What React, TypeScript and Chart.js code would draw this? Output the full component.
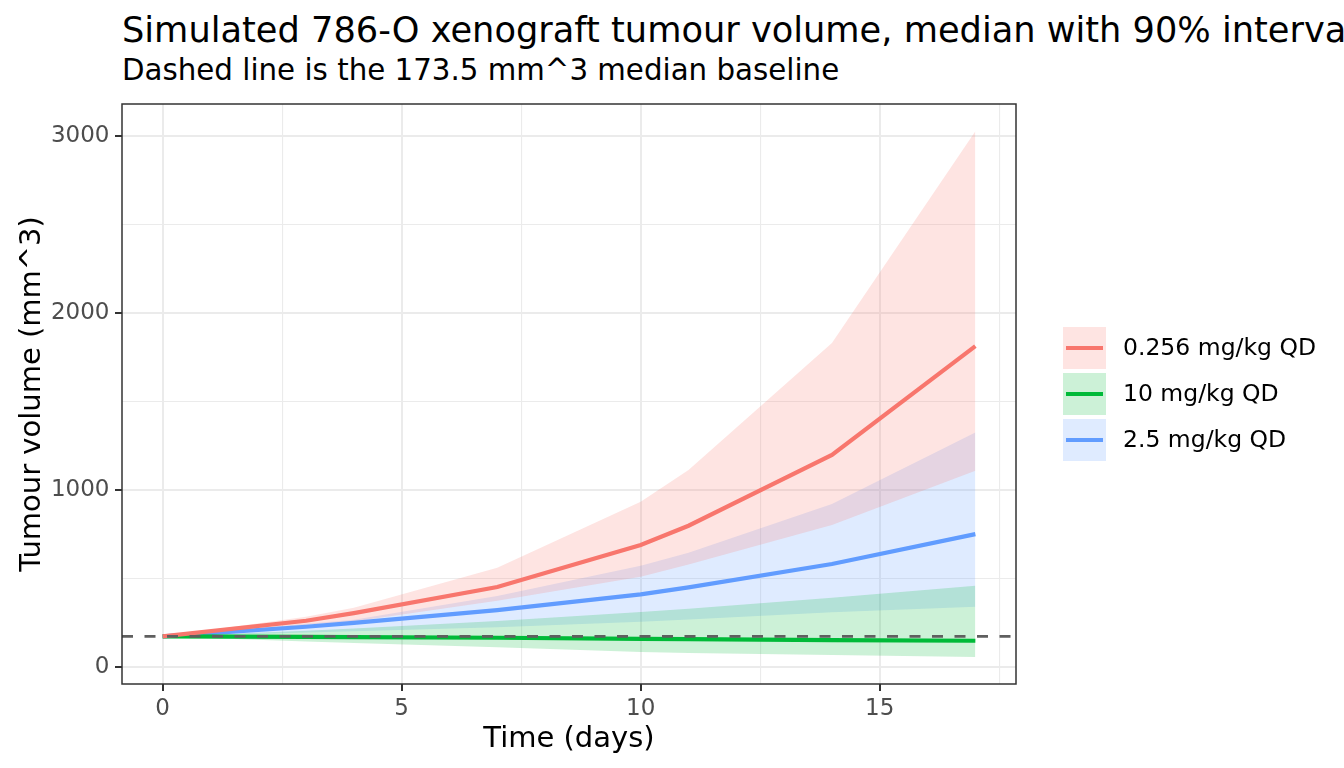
import { useEffect, useRef } from 'react';
import { Chart, registerables } from 'chart.js';

Chart.register(...registerables);

// Simulated tumour volume (mm^3)
const days = [0, 3, 4, 7, 10, 11, 14, 17];

const lowMedian = [173.5, 262, 305, 452, 689, 798, 1198, 1812];
const lowUpper = [173.5, 285, 335, 561, 934, 1113, 1830, 3024];
const lowLower = [173.5, 240, 258, 375, 510, 580, 802, 1109];

const highMedian = [173.5, 171, 170, 166, 160, 158, 153, 149];
const highUpper = [173.5, 206, 218, 261, 311, 329, 392, 460];
const highLower = [173.5, 145, 137, 112, 85, 80, 68, 58];

const midMedian = [173.5, 228, 250, 322, 411, 450, 582, 751];
const midUpper = [173.5, 245, 268, 401, 572, 646, 921, 1324];
const midLower = [173.5, 195, 203, 225, 256, 269, 310, 341];

const baseline = 173.5;
const groups = ['0.256 mg/kg QD', '10 mg/kg QD', '2.5 mg/kg QD'];

const xTicks = [0, 2.5, 5, 7.5, 10, 12.5, 15, 17.5];
const yTicks = [0, 500, 1000, 1500, 2000, 2500, 3000];

const colors = [
  { line: '#F8766D', fill: 'rgba(248, 118, 109, 0.2)' },
  { line: '#00BA38', fill: 'rgba(0, 186, 56, 0.2)' },
  { line: '#619CFF', fill: 'rgba(97, 156, 255, 0.2)' },
];

const toPoints = (values: number[]) => values.map((y, i) => ({ x: days[i], y }));

const FONT = '"DejaVu Sans", sans-serif';

const panelBorder = {
  id: 'panelBorder',
  afterDatasetsDraw(chart: Chart) {
    const { ctx, chartArea } = chart;
    ctx.save();
    ctx.strokeStyle = '#333333';
    ctx.lineWidth = 1.5;
    ctx.strokeRect(chartArea.left, chartArea.top, chartArea.right - chartArea.left, chartArea.bottom - chartArea.top);
    ctx.restore();
  },
};

const sideLegend = {
  id: 'sideLegend',
  afterDraw(chart: Chart) {
    const { ctx, chartArea } = chart;
    const keyX = chartArea.right + 47;
    ctx.save();
    groups.forEach((label, i) => {
      const top = 327 + i * 46;
      const mid = top + 21;
      ctx.fillStyle = colors[i].fill;
      ctx.fillRect(keyX, top, 43, 42);
      ctx.strokeStyle = colors[i].line;
      ctx.lineWidth = 4.2;
      ctx.beginPath();
      ctx.moveTo(keyX + 3, mid);
      ctx.lineTo(keyX + 40, mid);
      ctx.stroke();
      ctx.fillStyle = '#000000';
      ctx.font = `23.5px ${FONT}`;
      ctx.textBaseline = 'middle';
      ctx.textAlign = 'left';
      ctx.fillText(label, keyX + 60, mid + 1);
    });
    ctx.restore();
  },
};

export default function App() {
  const canvasRef = useRef<HTMLCanvasElement>(null);

  useEffect(() => {
    document.body.style.margin = '0';
    if (!canvasRef.current) return;

    const ribbon = (upper: number[], lower: number[], fill: string) => [
      {
        data: toPoints(upper),
        borderWidth: 0,
        pointRadius: 0,
        backgroundColor: fill,
        fill: '+1',
        order: 3,
      },
      {
        data: toPoints(lower),
        borderWidth: 0,
        pointRadius: 0,
        fill: false,
        order: 3,
      },
    ];

    const medianLine = (values: number[], color: string) => ({
      data: toPoints(values),
      borderColor: color,
      borderWidth: 4.2,
      pointRadius: 0,
      fill: false,
      order: 2,
    });

    const chart = new Chart(canvasRef.current, {
      type: 'line',
      data: {
        datasets: [
          ...ribbon(lowUpper, lowLower, colors[0].fill),
          ...ribbon(highUpper, highLower, colors[1].fill),
          ...ribbon(midUpper, midLower, colors[2].fill),
          medianLine(lowMedian, colors[0].line),
          medianLine(highMedian, colors[1].line),
          medianLine(midMedian, colors[2].line),
          {
            data: [
              { x: -0.85, y: baseline },
              { x: 17.85, y: baseline },
            ],
            borderColor: '#5f5f5f',
            borderWidth: 2.6,
            borderDash: [11, 11.5],
            pointRadius: 0,
            fill: false,
            order: 1,
          },
        ] as any,
      },
      options: {
        responsive: false,
        animation: false,
        layout: { padding: { top: 104, right: 328, left: 0, bottom: 0 } },
        plugins: {
          legend: { display: false },
          tooltip: { enabled: false },
          title: { display: false },
        },
        scales: {
          x: {
            type: 'linear',
            min: -0.85,
            max: 17.85,
            afterBuildTicks: (scale: any) => {
              scale.ticks = xTicks.map(value => ({ value }));
            },
            afterFit: (scale: any) => {
              scale.height = 84;
            },
            ticks: {
              autoSkip: false,
              maxRotation: 0,
              padding: 4,
              color: '#4D4D4D',
              font: { family: FONT, size: 23 },
              callback: (value: any) => (Number(value) % 5 === 0 ? String(value) : ''),
            },
            grid: {
              color: '#EBEBEB',
              lineWidth: (ctx: any) => (ctx.tick && ctx.tick.value % 5 === 0 ? 2 : 1.1),
              tickColor: (ctx: any) => (ctx.tick && ctx.tick.value % 5 === 0 ? '#333333' : 'rgba(0,0,0,0)'),
              tickWidth: 2,
              tickLength: 7,
            },
            border: { display: false },
            title: {
              display: true,
              text: 'Time (days)',
              color: '#000000',
              font: { family: FONT, size: 29 },
              padding: { top: 0, bottom: 11 },
            },
          },
          y: {
            type: 'linear',
            min: -95,
            max: 3178,
            afterBuildTicks: (scale: any) => {
              scale.ticks = yTicks.map(value => ({ value }));
            },
            afterFit: (scale: any) => {
              scale.width = 122;
            },
            ticks: {
              autoSkip: false,
              padding: 5.5,
              color: '#4D4D4D',
              font: { family: FONT, size: 23 },
              callback: (value: any) => (Number(value) % 1000 === 0 ? String(value) : ''),
            },
            grid: {
              color: '#EBEBEB',
              lineWidth: (ctx: any) => (ctx.tick && ctx.tick.value % 1000 === 0 ? 2 : 1.1),
              tickColor: (ctx: any) => (ctx.tick && ctx.tick.value % 1000 === 0 ? '#333333' : 'rgba(0,0,0,0)'),
              tickWidth: 2,
              tickLength: 7,
            },
            border: { display: false },
            title: {
              display: true,
              text: 'Tumour volume (mm^3)',
              color: '#000000',
              font: { family: FONT, size: 29 },
              padding: { top: 15, bottom: 0 },
            },
          },
        },
      },
      plugins: [panelBorder, sideLegend],
    });

    return () => {
      chart.destroy();
    };
  }, []);

  return (
    <div style={{ position: 'relative', width: 1344, height: 768, overflow: 'hidden', background: '#fff', fontFamily: FONT }}>
      <div style={{ position: 'absolute', left: 122, top: 12, fontSize: 35.2, lineHeight: 1, whiteSpace: 'nowrap', color: '#000' }}>
        Simulated 786-O xenograft tumour volume, median with 90% interval
      </div>
      <div style={{ position: 'absolute', left: 122, top: 56, fontSize: 29.3, lineHeight: 1, whiteSpace: 'nowrap', color: '#000' }}>
        Dashed line is the 173.5 mm^3 median baseline
      </div>
      <canvas ref={canvasRef} width={1344} height={768} style={{ position: 'absolute', left: 0, top: 0 }} />
    </div>
  );
}
